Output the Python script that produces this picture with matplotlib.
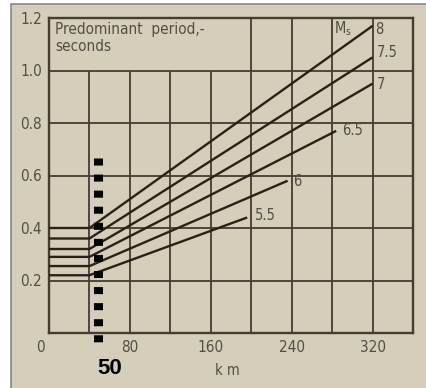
import matplotlib
matplotlib.use("Agg")
import matplotlib.pyplot as plt
from matplotlib.patches import Rectangle
from matplotlib.lines import Line2D
from matplotlib.transforms import ScaledTranslation
from matplotlib import font_manager as fm

# ---- data ----
magnitudes = ["8", "7.5", "7", "6.5", "6", "5.5"]
flat_until = 40
start_period = [0.40, 0.36, 0.32, 0.29, 0.255, 0.22]
end_km = [320, 320, 320, 284, 236, 196]
end_period = [1.17, 1.05, 0.95, 0.77, 0.58, 0.44]
label_offsets = [(3, -4), (4, 5), (4, -1), (6, 0), (6, -1), (8, 2)]  # pixels

x_ticks = [0, 80, 160, 240, 320]
y_ticks = [0.2, 0.4, 0.6, 0.8, 1.0, 1.2]
y_tick_labels = ["0.2", "0.4", "0.6", "0.8", "1.0", "1.2"]
marker_km = 48
marker_label = "50"

plt.rcParams['mathtext.default'] = 'regular'
names = {f.name for f in fm.fontManager.ttflist}
stretch = 'normal'
if 'Liberation Sans Narrow' in names:
    plt.rcParams['font.family'] = ['Liberation Sans Narrow', 'DejaVu Sans']
else:
    plt.rcParams['font.family'] = ['DejaVu Sans']
    if any(f.name == 'DejaVu Sans' and f.stretch == 'condensed' for f in fm.fontManager.ttflist):
        stretch = 'condensed'
plt.rcParams['font.stretch'] = stretch

W, H = 426, 388
fig = plt.figure(figsize=(W / 100, H / 100), dpi=100)
fig.patch.set_facecolor("white")
bg = "#d5cebb"
fig.add_artist(Rectangle((11 / W, 0), 1 - 11 / W, 1 - 4 / H, transform=fig.transFigure,
                         facecolor=bg, edgecolor="none", zorder=-10))
fig.add_artist(Line2D([11 / W, 11 / W, 1], [0, 1 - 4 / H, 1 - 4 / H], transform=fig.transFigure,
                      color="#8a8680", lw=1.2, zorder=-9))

ax = fig.add_axes([49 / W, 1 - 333 / H, (413 - 49) / W, (333 - 18) / H])
ax.set_zorder(1)
ax.set_facecolor(bg)
ax.set_xlim(0, 360)
ax.set_ylim(0, 1.2)

grid_c = "#463c30"
line_c = "#2b2118"
txt_c = "#524d46"

for y in y_ticks[:-1]:
    ax.hlines(y, 0, 360, color=grid_c, lw=1.3, zorder=1)
for x in range(40, 360, 40):
    top = 1.0 if x < 200 else 1.2
    ax.vlines(x, 0, top, color=grid_c, lw=1.3, zorder=1)
for s in ax.spines.values():
    s.set_color(grid_c)
    s.set_linewidth(1.7)

for mag, y0, xe, ye, off in zip(magnitudes, start_period, end_km, end_period, label_offsets):
    ax.plot([0, flat_until, xe], [y0, y0, ye], color=line_c, lw=1.7, zorder=3,
            solid_capstyle='butt')
    ax.annotate(mag, (xe, ye), xytext=(off[0] * 0.72, off[1] * 0.72), textcoords='offset points',
                ha='left', va='center', fontsize=10.5, color=txt_c)

ax.text(282, 1.16, "M$_s$", fontsize=10.5, color=txt_c, ha='left', va='center')
ax.text(6, 1.158, "Predominant  period,-", fontsize=11, color=txt_c, ha='left', va='center')
ax.text(6, 1.09, "seconds", fontsize=11, color=txt_c, ha='left', va='center')

ax.set_xticks(x_ticks)
ax.set_xticklabels([str(v) for v in x_ticks])
ax.set_yticks(y_ticks)
ax.set_yticklabels(y_tick_labels)
ax.tick_params(length=0, labelsize=11, labelcolor=txt_c, pad=5)
lbl0 = ax.get_xticklabels()[0]
lbl0.set_transform(lbl0.get_transform() + ScaledTranslation(-9 / 100, 0, fig.dpi_scale_trans))
ax.set_xlabel("k m", fontsize=10.5, color=txt_c)
ax.xaxis.set_label_coords(0.49, -0.095)

# dotted marker line
ax.plot([marker_km, marker_km], [0.6654, -0.0385], color="black", lw=6.5,
        linestyle=(0, (0.78, 1.0)), dash_capstyle='butt', clip_on=False, zorder=5)
ax.text(marker_km, -0.135, marker_label, fontsize=16, fontweight='bold', color="black",
        family=['Liberation Sans', 'DejaVu Sans'], fontstretch='normal',
        ha='left', va='center', clip_on=False)

fig.savefig("out.png", dpi=100, facecolor=fig.get_facecolor())
